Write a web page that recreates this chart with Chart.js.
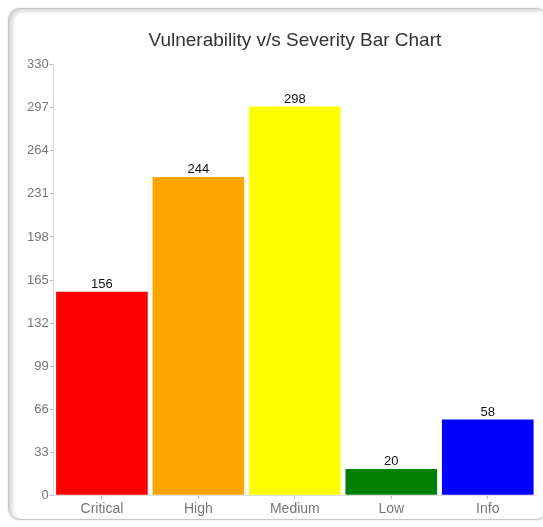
<!DOCTYPE html>
<html>
<head>
<meta charset="utf-8">
<script src="https://cdn.jsdelivr.net/npm/chart.js@4/dist/chart.umd.min.js"></script>
<style>
  html, body { margin: 0; padding: 0; background: #fff; }
  body { width: 543px; height: 527px; position: relative; overflow: hidden; }
  .card {
    position: absolute; left: 8px; top: 8px; width: 540px; height: 512px;
    border: 1px solid #c8c8c8; border-radius: 12px; box-sizing: border-box;
    box-shadow: inset 3px 2px 4px rgba(0,0,0,0.18), 0 0 2px rgba(0,0,0,0.2);
    background: #fff;
  }
  canvas { position: absolute; left: 0; top: 0; }
</style>
</head>
<body>
<div class="card"></div>
<canvas id="c" width="543" height="527"></canvas>
<script>
const categories = ['Critical', 'High', 'Medium', 'Low', 'Info'];
const counts = [156, 244, 298, 20, 58];
const barColors = ['#ff0000', '#ffa500', '#ffff00', '#008000', '#0000ff'];
const yTicks = [0, 33, 66, 99, 132, 165, 198, 231, 264, 297, 330];

// Writes each bar's count just above the bar
const valueLabels = {
  id: 'valueLabels',
  afterDatasetsDraw(chart) {
    const ctx = chart.ctx;
    const meta = chart.getDatasetMeta(0);
    ctx.save();
    ctx.font = '13px "Liberation Sans", Arial, sans-serif';
    ctx.fillStyle = '#111';
    ctx.textAlign = 'center';
    ctx.textBaseline = 'bottom';
    meta.data.forEach((bar, i) => {
      ctx.fillText(String(chart.data.datasets[0].data[i]), bar.x, bar.y - 1);
    });
    ctx.restore();
  }
};

new Chart(document.getElementById('c'), {
  type: 'bar',
  data: {
    labels: categories,
    datasets: [{
      data: counts,
      backgroundColor: barColors,
      borderWidth: 0,
      barPercentage: 0.95,
      categoryPercentage: 1.0
    }]
  },
  options: {
    responsive: false,
    animation: false,
    layout: { padding: { left: 26, right: 7, top: 29, bottom: 7 } },
    plugins: {
      legend: { display: false },
      tooltip: { enabled: false },
      title: {
        display: true,
        fullSize: false,
        text: 'Vulnerability v/s Severity Bar Chart',
        color: '#333',
        font: { family: '"Liberation Sans", Arial, sans-serif', size: 19, weight: 'normal' },
        padding: { top: 0, bottom: 13 }
      }
    },
    scales: {
      x: {
        offset: true,
        grid: { display: true, drawOnChartArea: false, drawTicks: true, tickLength: 4, offset: false, color: '#bbb' },
        border: { display: true, color: '#ddd' },
        ticks: { color: '#777', padding: 2, font: { family: '"Liberation Sans", Arial, sans-serif', size: 14 } }
      },
      y: {
        min: 0,
        max: 330,
        afterBuildTicks(scale) { scale.ticks = yTicks.map(v => ({ value: v })); },
        grid: { display: true, drawOnChartArea: false, drawTicks: true, tickLength: 4, color: '#bbb' },
        border: { display: true, color: '#ddd' },
        ticks: { color: '#777', padding: 1, font: { family: '"Liberation Sans", Arial, sans-serif', size: 13 } }
      }
    }
  },
  plugins: [valueLabels]
});
</script>
</body>
</html>
